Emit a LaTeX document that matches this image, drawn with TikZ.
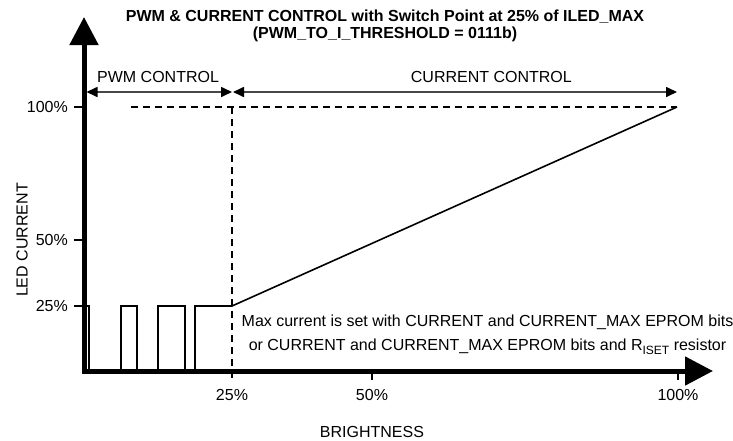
\documentclass[tikz,border=0pt]{standalone}
\usepackage{fontspec}
\setmainfont{Liberation Sans}
\usetikzlibrary{arrows.meta}
\tikzset{
  axisline/.style={line width=5pt, line join=miter, {Triangle[length=28pt,width=28pt]}-{Triangle[length=28pt,width=28pt]}},
  tickline/.style={line width=1.5pt},
  dashline/.style={line width=1.2pt, dash pattern=on 7pt off 5pt},
  pulseline/.style={line width=1.6pt, line join=miter},
  ctrlarrow/.style={line width=1.6pt, draw=black!72, {Triangle[length=11pt,width=10pt,color=black]}-{Triangle[length=11pt,width=10pt,color=black]}},
  lbl/.style={inner sep=0pt, font=\fontsize{16}{19}\selectfont},
}
\begin{document}
\begin{tikzpicture}[x=1pt,y=-1pt]
\useasboundingbox (0,0) rectangle (733,440);
% title
\node[inner sep=0pt, align=center, font=\fontsize{16}{17}\selectfont\bfseries, anchor=base] (title) at (385,38)
  {PWM \& CURRENT CONTROL with Switch Point at 25\% of ILED\_MAX\\(PWM\_TO\_I\_THRESHOLD = 0111b)};
% axes
\coordinate (ytip) at (84,17);
\coordinate (org) at (84,371);
\coordinate (xtip) at (713,371);
\draw[axisline] (ytip) -- (org) -- (xtip);
% y ticks
\coordinate (y100) at (84,107);
\coordinate (y50) at (84,240);
\coordinate (y25) at (84,306);
\node[lbl, anchor=base east] (l100) at (68,112.5) {100\%};
\node[lbl, anchor=base east] (l50) at (68,245.5) {50\%};
\node[lbl, anchor=base east] (l25) at (68,311.5) {25\%};
\draw[tickline] (74,107) -- (y100);
\draw[tickline] (74,240) -- (y50);
\draw[tickline] (74,306) -- (y25);
\node[lbl, rotate=90] (ylab) at (22,240) {LED CURRENT};
% x ticks
\coordinate (x25) at (232,371);
\coordinate (x50) at (372,371);
\coordinate (x100) at (678,371);
\draw[tickline] (x50) -- ++(0,9);
\draw[tickline] (x100) -- ++(0,9);
\node[lbl, anchor=base] (b25) at (232,400) {25\%};
\node[lbl, anchor=base] (b50) at (372,400) {50\%};
\node[lbl, anchor=base] (b100) at (678,400) {100\%};
\node[lbl, anchor=base] (xlab) at (372,437) {BRIGHTNESS};
% dashed guides
\coordinate (d0) at (131,107);
\coordinate (top) at (232,107);
\coordinate (end) at (677,107);
\coordinate (dbot) at (232,380);
\draw[dashline] (d0) -- (end);
\draw[dashline] (top) -- (dbot);
% control arrows
\coordinate (ca0) at (86.5,92);
\coordinate (ca1) at (232,92);
\coordinate (ca2) at (233,92);
\coordinate (ca3) at (677,92);
\draw[ctrlarrow] (ca0) -- (ca1);
\draw[ctrlarrow] (ca2) -- (ca3);
\node[lbl, anchor=base west] (pwmc) at (97,82) {PWM CONTROL};
\node[lbl, anchor=base east] (curc) at (572,82) {CURRENT CONTROL};
% PWM pulses and current ramp
\coordinate (sw) at (232,306);
\draw[pulseline] (y25) -- (89,306) -- (89,371);
\draw[pulseline] (121,371) -- (121,306) -- (137,306) -- (137,371);
\draw[pulseline] (158,371) -- (158,306) -- (185,306) -- (185,371);
\draw[pulseline] (195,371) -- (195,306) -- (sw) -- (end);
% note
\node[inner sep=0pt, align=center, font=\fontsize{16}{24}\selectfont, anchor=base] (note) at (487.5,350)
  {Max current is set with CURRENT and CURRENT\_MAX EPROM bits\\or CURRENT and CURRENT\_MAX EPROM bits and R\raisebox{-4pt}{\fontsize{12}{12}\selectfont ISET} resistor};
\end{tikzpicture}
\end{document}
